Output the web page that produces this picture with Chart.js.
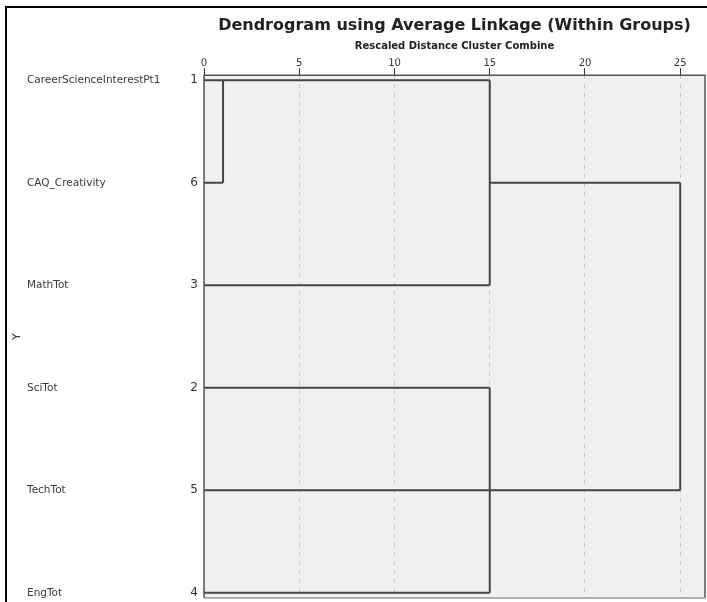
<!DOCTYPE html>
<html>
<head>
<meta charset="utf-8">
<script src="https://cdn.jsdelivr.net/npm/chart.js@4.4.0/dist/chart.umd.min.js"></script>
<style>
  html, body { margin: 0; padding: 0; background: #fff; }
  #frame {
    position: absolute;
    left: 5px;
    top: 6px;
    width: 702px;
    height: 596px;
    border-left: 2px solid #000;
    border-top: 2px solid #000;
  }
  #myChart { display: block; }
</style>
</head>
<body>
<div id="frame">
  <canvas id="myChart" width="700" height="594"></canvas>
</div>
<script>
// leaves, top to bottom
const leafNames = ['CareerScienceInterestPt1', 'CAQ_Creativity', 'MathTot', 'SciTot', 'TechTot', 'EngTot'];
const leafCases = [1, 6, 3, 2, 5, 4];
// rescaled distance at which each leaf first joins a cluster
const leafJoin = [1, 1, 15, 15, 15, 15];

// merges: distance, rows spanned by the vertical, row the new cluster continues on, parent merge
const mergeDistance = [1, 15, 15, 25];
const mergeTopRow = [0, 0, 3, 1];
const mergeBottomRow = [1, 2, 5, 4];
const mergeLinkRow = [0, 1, 4, null];
const mergeParent = [1, 3, 3, null];

const distanceTicks = [0, 5, 10, 15, 20, 25];

const lineColor = '#454545';
const segments = [];

leafNames.forEach((name, i) => {
    segments.push([{ x: 0, y: i }, { x: leafJoin[i], y: i }]);
});
mergeDistance.forEach((d, m) => {
    segments.push([{ x: d, y: mergeTopRow[m] }, { x: d, y: mergeBottomRow[m] }]);
    if (mergeParent[m] !== null) {
        const row = mergeLinkRow[m];
        segments.push([{ x: d, y: row }, { x: mergeDistance[mergeParent[m]], y: row }]);
    }
});

const datasets = segments.map(seg => ({
    data: seg,
    showLine: true,
    borderColor: lineColor,
    borderWidth: 2,
    pointRadius: 0,
    fill: false,
    xAxisID: 'x',
    yAxisID: 'y'
}));

const rowTicks = scale => {
    scale.ticks = leafNames.map((n, i) => ({ value: i }));
};
// keep the label padding from pushing the plot up from the bottom
const rowFit = width => scale => {
    scale.width = width;
    scale.paddingTop = 0;
    scale.paddingBottom = 0;
};

// gray plot box with its frame
const plotBox = {
    id: 'plotBox',
    beforeDraw(chart) {
        const { ctx, chartArea: a } = chart;
        ctx.save();
        ctx.fillStyle = '#f0f0f0';
        ctx.fillRect(a.left, a.top, a.right - a.left, a.bottom - a.top);
        ctx.restore();
    },
    afterDraw(chart) {
        const { ctx, chartArea: a } = chart;
        ctx.save();
        ctx.lineWidth = 1.5;
        ctx.strokeStyle = '#555';
        ctx.beginPath();
        ctx.moveTo(a.left, a.bottom);
        ctx.lineTo(a.left, a.top);
        ctx.lineTo(a.right, a.top);
        ctx.lineTo(a.right, a.bottom);
        ctx.stroke();
        ctx.strokeStyle = '#999';
        ctx.beginPath();
        ctx.moveTo(a.left, a.bottom);
        ctx.lineTo(a.right, a.bottom);
        ctx.stroke();
        ctx.restore();
    }
};

Chart.defaults.font.family = "'DejaVu Sans', sans-serif";
Chart.defaults.color = '#333';

const config = {
    type: 'scatter',
    data: { datasets },
    options: {
        responsive: false,
        animation: false,
        devicePixelRatio: 1,
        layout: {
            padding: { top: 0, right: 2, bottom: 4, left: 0 }
        },
        scales: {
            x: {
                type: 'linear',
                position: 'top',
                min: 0,
                max: 26.3,
                afterBuildTicks: scale => {
                    scale.ticks = distanceTicks.map(v => ({ value: v }));
                },
                ticks: {
                    font: { size: 10 },
                    color: '#333',
                    padding: -1
                },
                grid: {
                    color: '#c8c8c8',
                    lineWidth: 1,
                    tickLength: 7,
                    tickColor: '#333',
                    tickWidth: 1
                },
                border: { display: false, dash: [4, 5] }
            },
            y: {
                type: 'linear',
                position: 'left',
                weight: 0,
                reverse: true,
                min: -0.05,
                max: 5.05,
                afterBuildTicks: rowTicks,
                afterFit: rowFit(20),
                ticks: {
                    font: { size: 12 },
                    color: '#333',
                    padding: 6,
                    callback: v => leafCases[v]
                },
                grid: { display: false, drawTicks: false },
                border: { display: false }
            },
            yNames: {
                type: 'linear',
                position: 'left',
                weight: 1,
                reverse: true,
                min: -0.05,
                max: 5.05,
                afterBuildTicks: rowTicks,
                afterFit: rowFit(157),
                ticks: {
                    font: { size: 10.5 },
                    color: '#3a3a3a',
                    padding: 0,
                    crossAlign: 'far',
                    callback: v => leafNames[v]
                },
                grid: { display: false, drawTicks: false },
                border: { display: false }
            },
            yTitle: {
                type: 'linear',
                position: 'left',
                weight: 2,
                min: 0,
                max: 1,
                afterFit: rowFit(20),
                ticks: { display: false },
                grid: { display: false, drawTicks: false },
                border: { display: false },
                title: {
                    display: true,
                    text: 'Y',
                    font: { size: 11 },
                    color: '#333'
                }
            }
        },
        plugins: {
            title: {
                display: true,
                fullSize: false,
                text: 'Dendrogram using Average Linkage (Within Groups)',
                color: '#222',
                font: { size: 16, weight: 'bold' },
                padding: { top: 8, bottom: 5 }
            },
            subtitle: {
                display: true,
                fullSize: false,
                text: 'Rescaled Distance Cluster Combine',
                color: '#222',
                font: { size: 10, weight: 'bold' },
                padding: { top: 0, bottom: 6 }
            },
            legend: { display: false },
            tooltip: { enabled: false }
        }
    },
    plugins: [plotBox]
};

var myChart = new Chart(
    document.getElementById('myChart'),
    config
);
</script>
</body>
</html>
